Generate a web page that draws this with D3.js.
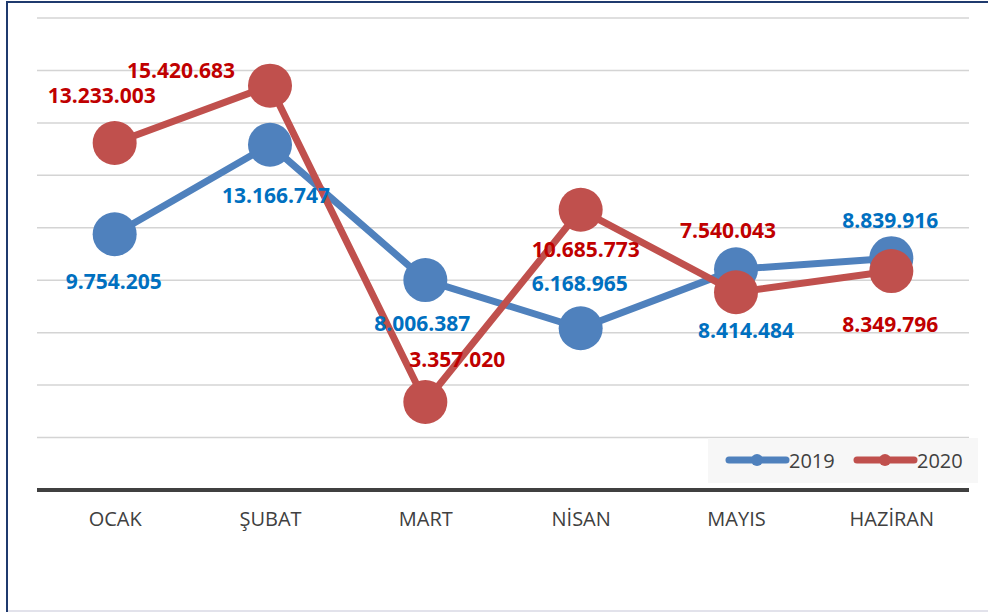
<!DOCTYPE html>
<html>
<head>
<meta charset="utf-8">
<script src="https://cdn.jsdelivr.net/npm/d3@7"></script>
<style>
  body { margin: 0; background: #fff; }
  svg { display: block; }
</style>
</head>
<body>
<div id="chart"></div>
<script>
// data
var months = ["OCAK", "ŞUBAT", "MART", "NİSAN", "MAYIS", "HAZİRAN"]
var values2019 = [9754205, 13166747, 8006387, 6168965, 8414484, 8839916]
var values2020 = [13233003, 15420683, 3357020, 10685773, 7540043, 8349796]
var seriesNames = ["2019", "2020"]
var yTicks = [2e6, 4e6, 6e6, 8e6, 10e6, 12e6, 14e6, 16e6, 18e6]

// label offsets from each point (placed by hand in the original)
var offsets2019 = [[-1, 47], [6, 50], [-3, 43], [-1, -45], [10, 61], [-1, -38]]
var offsets2020 = [[-13, -48], [-89, -16], [32, -43], [5, 39], [-8, -62], [-1, 53]]

var W = 988, H = 612
var plot = { left: 37, right: 969, top: 18, bottom: 490 }

var svg = d3.select("#chart")
    .append("svg")
    .attr("width", W)
    .attr("height", H)

// frame
svg.append("line").attr("x1", 7).attr("x2", 7).attr("y1", 2).attr("y2", H)
    .attr("stroke", "#1f3a6e").attr("stroke-width", 2)
svg.append("line").attr("x1", 6).attr("x2", W).attr("y1", 2).attr("y2", 2)
    .attr("stroke", "#1f3a6e").attr("stroke-width", 2)
svg.append("line").attr("x1", 8).attr("x2", W).attr("y1", 611).attr("y2", 611)
    .attr("stroke", "#d8d8e4").attr("stroke-width", 1.5)

var x = d3.scalePoint()
    .domain(months)
    .range([plot.left, plot.right])
    .padding(0.5)

var y = d3.scaleLinear()
    .domain([0, 18e6])
    .range([plot.bottom, plot.top])

// gridlines
svg.append("g")
  .selectAll("line")
  .data(yTicks)
  .enter()
  .append("line")
    .attr("x1", plot.left)
    .attr("x2", plot.right)
    .attr("y1", function (d) { return y(d) })
    .attr("y2", function (d) { return y(d) })
    .attr("stroke", "#d4d4d4")
    .attr("stroke-width", 1.5)

// x axis
var xAxis = svg.append("g")
    .attr("transform", "translate(0," + plot.bottom + ")")
    .call(d3.axisBottom(x).tickSize(0).tickPadding(22))
xAxis.select(".domain").remove()
xAxis.append("line")
    .attr("x1", plot.left).attr("x2", plot.right)
    .attr("stroke", "#404040").attr("stroke-width", 4)
xAxis.selectAll("text")
    .style("font-family", "'Open Sans', sans-serif")
    .style("font-size", "20px")
    .attr("fill", "#404040")

var series = [
    { name: seriesNames[0], values: values2019, offsets: offsets2019, color: "#4f81bd", labelColor: "#0070c0" },
    { name: seriesNames[1], values: values2020, offsets: offsets2020, color: "#c0504d", labelColor: "#c00000" }
]

var line = d3.line()
    .x(function (d, i) { return x(months[i]) })
    .y(function (d) { return y(d) })

series.forEach(function (s) {
    var g = svg.append("g")
    g.append("path")
        .datum(s.values)
        .attr("d", line)
        .attr("fill", "none")
        .attr("stroke", s.color)
        .attr("stroke-width", 7)
        .attr("stroke-linejoin", "round")
    g.selectAll("circle")
        .data(s.values)
        .enter()
        .append("circle")
        .attr("cx", function (d, i) { return x(months[i]) })
        .attr("cy", function (d) { return y(d) })
        .attr("r", 22)
        .attr("fill", s.color)
})

// value labels
var fmt = function (v) { return d3.format(",")(v).replace(/,/g, ".") }
series.forEach(function (s) {
    svg.append("g")
      .selectAll("text")
      .data(s.values)
      .enter()
      .append("text")
        .attr("x", function (d, i) { return x(months[i]) + s.offsets[i][0] })
        .attr("y", function (d, i) { return y(d) + s.offsets[i][1] })
        .attr("text-anchor", "middle")
        .attr("dominant-baseline", "central")
        .style("font-family", "'Open Sans', sans-serif")
        .style("font-weight", "bold")
        .style("font-size", "21px")
        .attr("fill", s.labelColor)
        .text(fmt)
})

// legend
var legend = svg.append("g")
legend.append("rect")
    .attr("x", 708).attr("y", 438)
    .attr("width", 270).attr("height", 45)
    .attr("fill", "#f7f7f7")
var legendX = [729, 857]
series.forEach(function (s, i) {
    var lx = legendX[i]
    legend.append("line")
        .attr("x1", lx).attr("x2", lx + 57)
        .attr("y1", 460).attr("y2", 460)
        .attr("stroke", s.color).attr("stroke-width", 7)
        .attr("stroke-linecap", "round")
    legend.append("circle")
        .attr("cx", lx + 28).attr("cy", 460).attr("r", 6)
        .attr("fill", s.color)
    legend.append("text")
        .attr("x", lx + 60).attr("y", 460)
        .attr("dominant-baseline", "central")
        .style("font-family", "'Open Sans', sans-serif")
        .style("font-size", "20px")
        .attr("fill", "#404040")
        .text(s.name)
})
</script>
</body>
</html>
